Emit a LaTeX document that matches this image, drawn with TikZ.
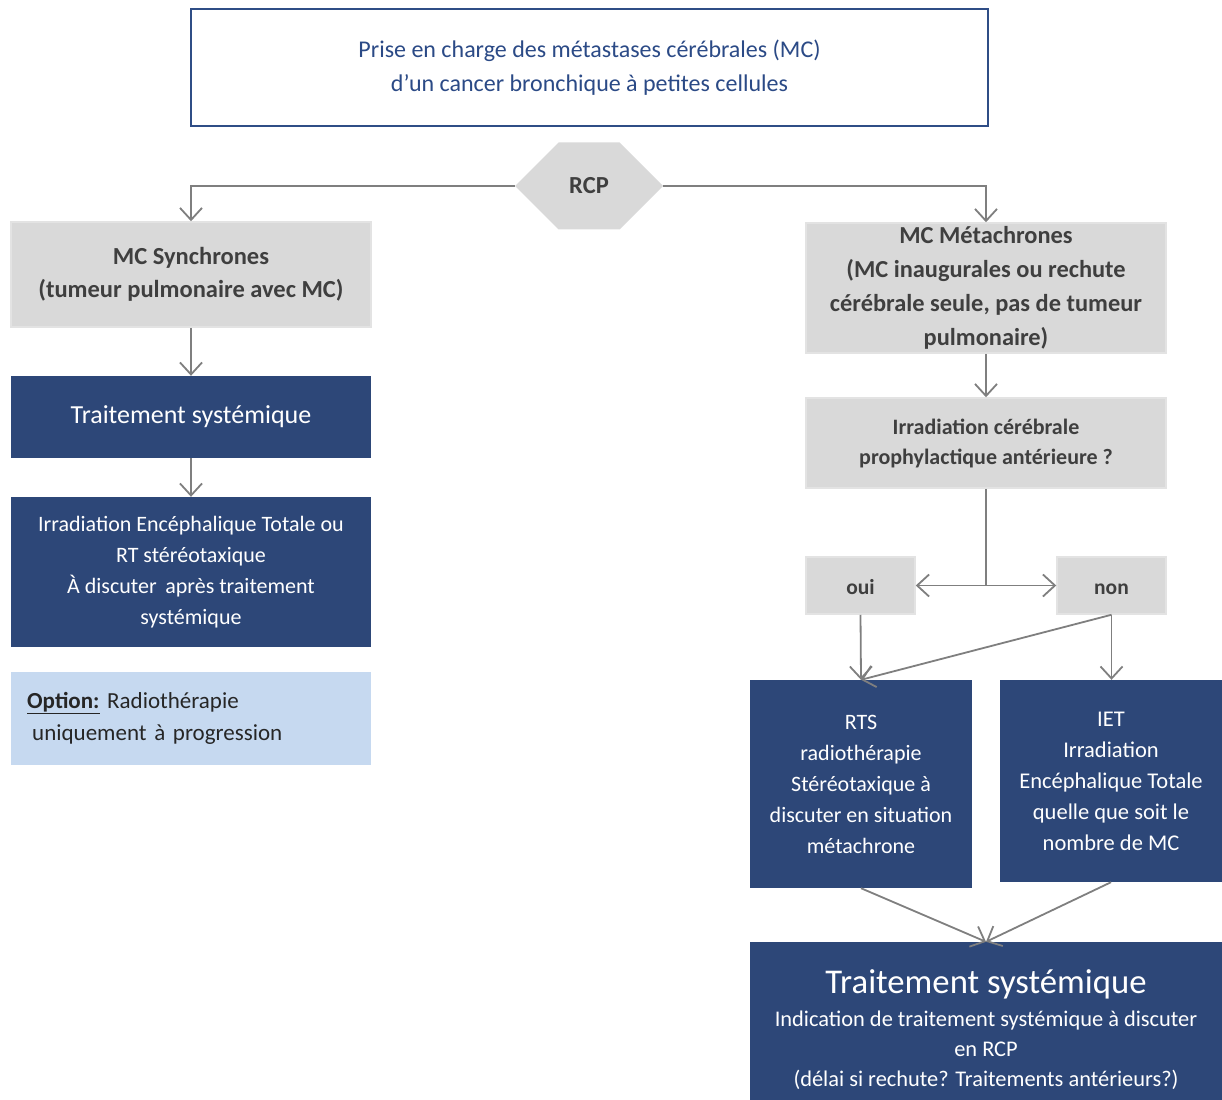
\documentclass[tikz,border=0pt]{standalone}
\usepackage{fontspec}
\setmainfont{Carlito}
\usetikzlibrary{arrows.meta,shapes.symbols}

\definecolor{navy}{HTML}{2D4778}
\definecolor{titleblue}{HTML}{2B4A86}
\definecolor{frameblue}{HTML}{2F4D86}
\definecolor{boxgrey}{HTML}{D9D9D9}
\definecolor{boxgreyline}{HTML}{E3E3E3}
\definecolor{textgrey}{HTML}{3F3F3F}
\definecolor{linegrey}{HTML}{7F7F7F}
\definecolor{optblue}{HTML}{C6D9F0}

\begin{document}
\begin{tikzpicture}[x=1pt,y=-1pt,
    greybox/.style={fill=boxgrey,draw=boxgreyline,line width=1.5pt,text=textgrey,align=center},
    bluebox/.style={fill=navy,draw=none,text=white,align=center},
    link/.style={draw=linegrey,line width=1.8pt,-{Straight Barb[length=12pt,width=22pt,line width=1.8pt]}},
    plain/.style={draw=linegrey,line width=1.8pt}]
  \useasboundingbox (0,0) rectangle (1222,1099);
  \clip (0,0) rectangle (1222,1099);

  % titre
  \node[draw=frameblue,line width=2pt,fill=white,text=titleblue,align=center,
        minimum width=797,minimum height=117,
        font=\fontsize{24}{34}\selectfont] (title) at (589.5,67.5)
        {Prise en charge des métastases cérébrales (MC)\\d’un cancer bronchique à petites cellules};
  \node[signal,signal to=west and east,fill=boxgrey,text=textgrey,
        minimum width=148,minimum height=87,inner sep=0pt,
        font=\fontsize{24.5}{28}\bfseries] (rcp) at (589,186) {RCP};

  % branche gauche
  \node[greybox,minimum width=360,minimum height=105,font=\fontsize{24.5}{33}\bfseries]
        (sync) at (191,274.5) {MC Synchrones\\(tumeur pulmonaire avec MC)};
  \node[bluebox,minimum width=360,minimum height=82,font=\fontsize{26}{30}\selectfont]
        (trtA) at (191,417) {Traitement systémique};
  \node[bluebox,minimum width=360,minimum height=150,font=\fontsize{22}{31}\selectfont]
        (ietA) at (191,572) {Irradiation Encéphalique Totale ou\\RT stéréotaxique\\À discuter\, après traitement\\systémique};
  \node[fill=optblue,text=textgrey!60!black,align=left,anchor=west,text width=328,
        minimum width=360,minimum height=93,inner xsep=16pt,
        font=\fontsize{23}{32}\selectfont]
        (option) at (11,718.5) {\textbf{\underline{Option:}} Radiothérapie\\\hspace*{5pt}uniquement à progression};

  % branche droite
  \node[greybox,minimum width=360,minimum height=130,font=\fontsize{24.4}{34}\bfseries]
        (meta) at (986,288) {MC Métachrones\\(MC inaugurales ou rechute\\cérébrale seule, pas de tumeur\\pulmonaire)};
  \node[greybox,minimum width=360,minimum height=90,font=\fontsize{22}{30}\bfseries]
        (icp) at (986,443) {Irradiation cérébrale\\prophylactique antérieure ?};
  \node[greybox,minimum width=109,minimum height=57,text height=19pt,text depth=1pt,
        font=\fontsize{21.5}{24}\bfseries] (oui) at (860.5,585.5) {oui};
  \node[greybox,minimum width=109,minimum height=57,text height=19pt,text depth=1pt,
        font=\fontsize{21.5}{24}\bfseries] (non) at (1111.5,585.5) {non};
  \node[bluebox,minimum width=222,minimum height=208,font=\fontsize{22}{31}\selectfont]
        (rts) at (861,784) {RTS\\radiothérapie\\Stéréotaxique à\\discuter en situation\\métachrone};
  \node[bluebox,minimum width=222,minimum height=202,font=\fontsize{22.5}{31}\selectfont]
        (ietB) at (1111,781) {IET\\Irradiation\\Encéphalique Totale\\quelle que soit le\\nombre de MC};
  \node[bluebox,minimum width=472,minimum height=176,font=\fontsize{22.4}{30}\selectfont]
        (trtB) at (986,1030) {{\fontsize{34.7}{36}\selectfont Traitement systémique}\\[3pt]Indication de traitement systémique à discuter\\en RCP\\(délai si rechute? Traitements antérieurs?)};

  \coordinate (split) at (icp.south |- oui.east);

  \draw[link] (rcp.west) -| (sync.north);
  \draw[link] (rcp.east) -| (meta.north);
  \draw[link] (sync) -- (trtA);
  \draw[link] (trtA) -- (ietA);
  \draw[link] (meta) -- (icp);
  \draw[plain] (icp.south) -- (split);
  \draw[link] (split) -- (oui.east);
  \draw[link] (split) -- (non.west);
  \draw[link] (oui.south) -- (rts.north);
  \draw[link] (non.south) -- (rts.north);
  \draw[link] (non.south) -- (non.south |- ietB.north);
  \draw[link] (rts.south) -- (trtB.north);
  \draw[link] (ietB.south) -- (trtB.north);
\end{tikzpicture}
\end{document}
